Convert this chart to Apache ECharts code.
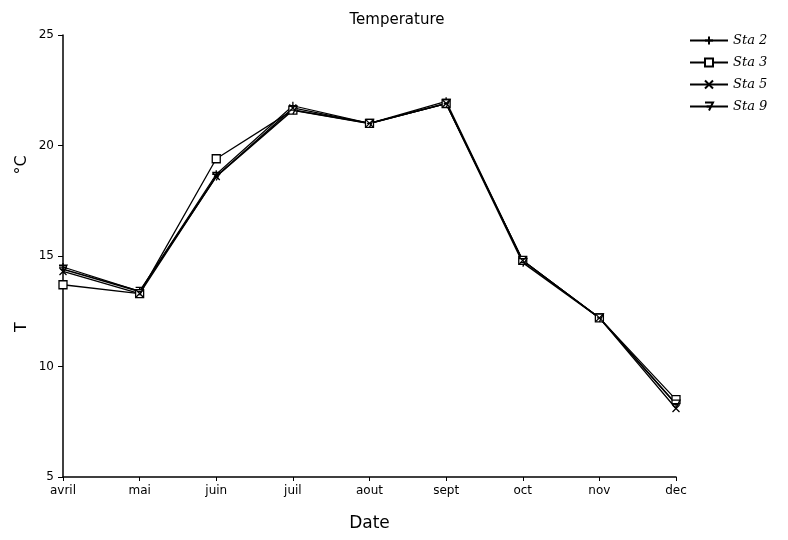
<!DOCTYPE html>
<html>
<head>
<meta charset="utf-8">
<style>
  html, body { margin: 0; padding: 0; background: #fff; }
  #chart { width: 788px; height: 540px; }
</style>
<script src="https://cdn.jsdelivr.net/npm/echarts@6/dist/echarts.min.js"></script>
</head>
<body>
<div id="chart"></div>
<script>
// Monthly mean water temperature per station
var months = ['avril', 'mai', 'juin', 'juil', 'aout', 'sept', 'oct', 'nov', 'dec'];
var sta2 = [14.5, 13.4, 18.7, 21.8, 21.0, 22.0, 14.8, 12.2, 8.3];
var sta3 = [13.7, 13.3, 19.4, 21.6, 21.0, 21.9, 14.8, 12.2, 8.5];
var sta5 = [14.3, 13.3, 18.6, 21.7, 21.0, 21.9, 14.8, 12.2, 8.1];
var sta9 = [14.4, 13.4, 18.6, 21.6, 21.0, 21.9, 14.7, 12.2, 8.3];
var yTicks = [5, 10, 15, 20, 25];

var plotFont = 'DejaVu Sans';
var legendFont = 'DejaVu Serif';

var plusSym = 'path://M0,5L10,5M5,0L5,10';
var crossSym = 'path://M0,0L10,10M10,0L0,10';
var sevenSym = 'path://M0,0L10,0L5,10M2,5L8,5';

function station(name, data, symbol, fill, size, width) {
  return {
    name: name,
    type: 'line',
    data: data,
    symbol: symbol,
    symbolSize: size,
    showAllSymbol: true,
    lineStyle: { color: '#000', width: width },
    itemStyle: { color: fill, borderColor: '#000', borderWidth: 1.3 },
    emphasis: { disabled: true },
    z: 3
  };
}

var chart = echarts.init(document.getElementById('chart'), null, { renderer: 'canvas' });
chart.setOption({
  animation: false,
  backgroundColor: '#fff',
  title: {
    text: 'Temperature',
    left: 392,
    top: 8,
    textAlign: 'center',
    textStyle: { fontFamily: plotFont, fontSize: 15, fontWeight: 'normal', color: '#000' }
  },
  legend: {
    orient: 'vertical',
    left: 684,
    top: 29,
    itemGap: 9,
    itemWidth: 38,
    itemHeight: 10,
    textStyle: { fontFamily: legendFont, fontStyle: 'italic', fontSize: 13, color: '#000' },
    data: ['Sta 2', 'Sta 3', 'Sta 5', 'Sta 9']
  },
  grid: { left: 63, right: 112, top: 35, bottom: 63, containLabel: false },
  xAxis: {
    type: 'category',
    data: months,
    boundaryGap: false,
    name: 'Date',
    nameLocation: 'middle',
    nameGap: 38,
    nameTextStyle: { fontFamily: plotFont, fontSize: 17, color: '#000' },
    axisLine: { lineStyle: { color: '#000', width: 1.5 } },
    axisTick: { show: true, alignWithLabel: true, length: 4, lineStyle: { color: '#000' } },
    axisLabel: { fontFamily: plotFont, fontSize: 12, color: '#000', margin: 8 },
    splitLine: { show: false }
  },
  yAxis: {
    type: 'value',
    min: yTicks[0],
    max: yTicks[yTicks.length - 1],
    interval: 5,
    axisLine: { show: true, lineStyle: { color: '#000', width: 1.5 } },
    axisTick: { show: true, length: 5, lineStyle: { color: '#000' } },
    axisLabel: { fontFamily: plotFont, fontSize: 12, color: '#000', margin: 9 },
    splitLine: { show: false }
  },
  graphic: [
    {
      type: 'text',
      x: 22, y: 327, rotation: Math.PI / 2,
      style: { text: 'T', font: '16px "DejaVu Sans"', fill: '#000', align: 'center', verticalAlign: 'middle' }
    },
    {
      type: 'text',
      x: 22, y: 165, rotation: Math.PI / 2,
      style: { text: '°C', font: '16px "DejaVu Sans"', fill: '#000', align: 'center', verticalAlign: 'middle' }
    }
  ],
  series: [
    station('Sta 2', sta2, plusSym, 'none', 8, 1.2),
    station('Sta 3', sta3, 'rect', '#fff', 8, 1.3),
    station('Sta 5', sta5, crossSym, 'none', 7, 1.3),
    station('Sta 9', sta9, sevenSym, 'none', 8, 1.6)
  ]
});
</script>
</body>
</html>
